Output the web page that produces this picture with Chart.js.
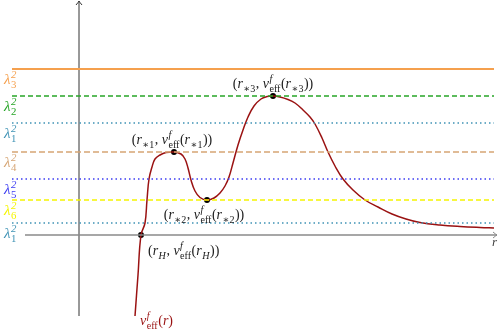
<!DOCTYPE html>
<html>
<head>
<meta charset="utf-8">
<script src="https://cdn.jsdelivr.net/npm/chart.js@4.4.1/dist/chart.umd.min.js"></script>
<style>
  html, body { margin: 0; padding: 0; background: #fff; }
  #wrap { width: 502px; height: 331px; position: relative; }
</style>
</head>
<body>
<div id="wrap"><canvas id="chart"></canvas></div>
<script>
        // Dados (unidades arbitrárias: r na horizontal, v na vertical)
        const levelIndex = ['3', '2', '1', '4', '5', '6', '1'];
        const levelValues = [8.3, 6.95, 5.6, 4.15, 2.8, 1.75, 0.6];
        const levelColors = ['#f5a04e', '#27a527', '#3f93b5', '#d6a574', '#3c3cf2', '#f5f500', '#3f93b5'];
        const levelDash = [[], [5, 3], [1.5, 3], [6, 3], [1.5, 3], [5, 3], [1.5, 3]];

        const curveR = [1.4, 1.475, 1.55, 1.65, 1.7, 1.75, 1.825, 1.9, 2.025, 2.175, 2.375,
                        2.55, 2.65, 2.725, 2.8, 2.9, 3.025, 3.2,
                        3.375, 3.525, 3.65, 3.75, 3.85, 3.975, 4.1, 4.225, 4.375, 4.55, 4.7, 4.85,
                        5.025, 5.225, 5.4, 5.6, 5.775, 5.9, 6.075, 6.225, 6.4, 6.6, 6.85, 7.15,
                        7.475, 7.825, 8.175, 8.525, 9.025, 9.525, 10.025, 10.375];
        const curveV = [-4.05, -2.0, 0, 0.6, 1.75, 2.8, 3.4, 3.8, 4.0, 4.12, 4.15,
                        4.05, 3.8, 3.35, 2.75, 2.2, 1.875, 1.75,
                        1.85, 2.1, 2.45, 2.9, 3.6, 4.5, 5.25, 5.9, 6.45, 6.8, 6.92, 6.95,
                        6.9, 6.775, 6.6, 6.25, 5.9, 5.55, 4.85, 4.15, 3.45, 2.8, 2.25, 1.75,
                        1.4, 1.05, 0.8, 0.625, 0.5, 0.425, 0.375, 0.35];

        const criticalR = [1.55, 2.375, 3.2, 4.85];
        const criticalV = [0, 4.15, 1.75, 6.95];
        const criticalSub = ['H', '∗1', '∗2', '∗3'];

        // Limites dos eixos e das linhas
        const xMin = -1.975, xMax = 10.575, yMin = -4.8, yMax = 11.75;
        const levelStart = -1.675, levelEnd = 10.375;
        const hAxis = [-1.35, 10.45];
        const vAxis = [-4.05, 11.7];

        // Posição de cada rótulo em relação ao seu ponto (pixels)
        const criticalLabelPos = [
            { align: 'left', dx: 7, dy: 20 },
            { align: 'center', dx: -2, dy: -8 },
            { align: 'center', dx: -3, dy: 19 },
            { align: 'center', dx: 0, dy: -8 }
        ];

        const curveColor = '#9a1212';
        const serif = "'Liberation Serif', 'DejaVu Serif', serif";

        // Desenha texto matemático simples com índices e expoentes
        function drawMath(ctx, tokens, x, y, size, color, align) {
            const small = size * 0.72;
            const fontOf = (s, it) => `${it ? 'italic ' : ''}${s}px ${serif}`;
            const items = tokens.map(tok => {
                if (tok.t !== undefined) {
                    ctx.font = fontOf(size, tok.f === 'i');
                    return { tok, w: ctx.measureText(tok.t).width };
                }
                let w = 0;
                if (tok.sup) { ctx.font = fontOf(small, true); w = Math.max(w, ctx.measureText(tok.sup).width); }
                if (tok.sub) { ctx.font = fontOf(small, tok.subI); w = Math.max(w, ctx.measureText(tok.sub).width); }
                return { tok, w: w + 1 };
            });
            const total = items.reduce((s, it) => s + it.w, 0);
            let cx = align === 'center' ? x - total / 2 : x;
            ctx.save();
            ctx.fillStyle = color;
            ctx.textBaseline = 'alphabetic';
            ctx.textAlign = 'left';
            items.forEach(({ tok, w }) => {
                if (tok.t !== undefined) {
                    ctx.font = fontOf(size, tok.f === 'i');
                    ctx.fillText(tok.t, cx, y);
                } else {
                    if (tok.sup) { ctx.font = fontOf(small, true); ctx.fillText(tok.sup, cx + 0.5, y - size * 0.42); }
                    if (tok.sub) { ctx.font = fontOf(small, tok.subI); ctx.fillText(tok.sub, cx + 0.5, y + size * 0.28); }
                }
                cx += w;
            });
            ctx.restore();
        }

        function pointTokens(sub) {
            const subI = sub === 'H';
            return [
                { t: '(', f: 'n' }, { t: 'r', f: 'i' }, { sub: sub, subI },
                { t: ', ', f: 'n' }, { t: 'v', f: 'i' }, { sup: 'f', sub: 'eff' },
                { t: '(', f: 'n' }, { t: 'r', f: 'i' }, { sub: sub, subI }, { t: '))', f: 'n' }
            ];
        }

        function arrowHead(ctx, x, y, dir, color) {
            ctx.save();
            ctx.translate(x, y);
            ctx.rotate(dir);
            ctx.strokeStyle = color;
            ctx.lineWidth = 1;
            ctx.beginPath();
            ctx.moveTo(-4, -3);
            ctx.quadraticCurveTo(-1, -0.5, 0, 0);
            ctx.quadraticCurveTo(-1, 0.5, -4, 3);
            ctx.stroke();
            ctx.restore();
        }

        const annotations = {
            id: 'annotations',
            afterDatasetsDraw(chart) {
                const ctx = chart.ctx;
                const xs = chart.scales.x, ys = chart.scales.y;

                // setas dos eixos
                arrowHead(ctx, xs.getPixelForValue(hAxis[1]), ys.getPixelForValue(0), 0, '#8a8a8a');
                arrowHead(ctx, xs.getPixelForValue(0), ys.getPixelForValue(vAxis[1]), -Math.PI / 2, '#333');
                drawMath(ctx, [{ t: 'r', f: 'i' }], xs.getPixelForValue(hAxis[1]) - 5, ys.getPixelForValue(0) + 11, 13, '#444', 'left');

                // rótulos dos níveis
                levelValues.forEach((v, i) => {
                    drawMath(ctx, [{ t: 'λ', f: 'i' }, { sup: '2', sub: levelIndex[i] }],
                        4, ys.getPixelForValue(v) + 15, 15, levelColors[i], 'left');
                });

                // rótulos dos pontos críticos
                criticalR.forEach((r, i) => {
                    const p = criticalLabelPos[i];
                    drawMath(ctx, pointTokens(criticalSub[i]),
                        xs.getPixelForValue(r) + p.dx, ys.getPixelForValue(criticalV[i]) + p.dy, 14, '#222', p.align);
                });

                // rótulo da curva
                drawMath(ctx, [{ t: 'v', f: 'i' }, { sup: 'f', sub: 'eff' }, { t: '(', f: 'n' }, { t: 'r', f: 'i' }, { t: ')', f: 'n' }],
                    xs.getPixelForValue(curveR[0]) + 5, ys.getPixelForValue(curveV[0]) + 9, 14, curveColor, 'left');
            }
        };

        const datasets = [];
        levelValues.forEach((v, i) => {
            datasets.push({
                data: [{ x: levelStart, y: v }, { x: levelEnd, y: v }],
                borderColor: levelColors[i],
                borderWidth: i === 0 ? 2 : 1.6,
                borderDash: levelDash[i],
                pointRadius: 0
            });
        });
        datasets.push({
            data: [{ x: hAxis[0], y: 0 }, { x: hAxis[1], y: 0 }],
            borderColor: '#8a8a8a', borderWidth: 1.3, pointRadius: 0
        });
        datasets.push({
            data: [{ x: 0, y: vAxis[0] }, { x: 0, y: vAxis[1] }],
            borderColor: '#333', borderWidth: 1, pointRadius: 0
        });
        datasets.push({
            data: curveR.map((r, i) => ({ x: r, y: curveV[i] })),
            borderColor: curveColor,
            borderWidth: 1.5,
            tension: 0.4,
            pointRadius: 0
        });
        datasets.push({
            data: criticalR.map((r, i) => ({ x: r, y: criticalV[i] })),
            showLine: false,
            pointRadius: 3,
            pointBackgroundColor: '#000',
            pointBorderColor: '#000',
            pointBorderWidth: 0
        });

        new Chart(document.getElementById('chart'), {
            type: 'line',
            data: { datasets },
            options: {
                responsive: true,
                maintainAspectRatio: false,
                animation: false,
                layout: { padding: 0, autoPadding: false },
                plugins: { legend: { display: false }, tooltip: { enabled: false } },
                scales: {
                    x: { type: 'linear', min: xMin, max: xMax, display: false },
                    y: { type: 'linear', min: yMin, max: yMax, display: false }
                }
            },
            plugins: [annotations]
        });
</script>
</body>
</html>
